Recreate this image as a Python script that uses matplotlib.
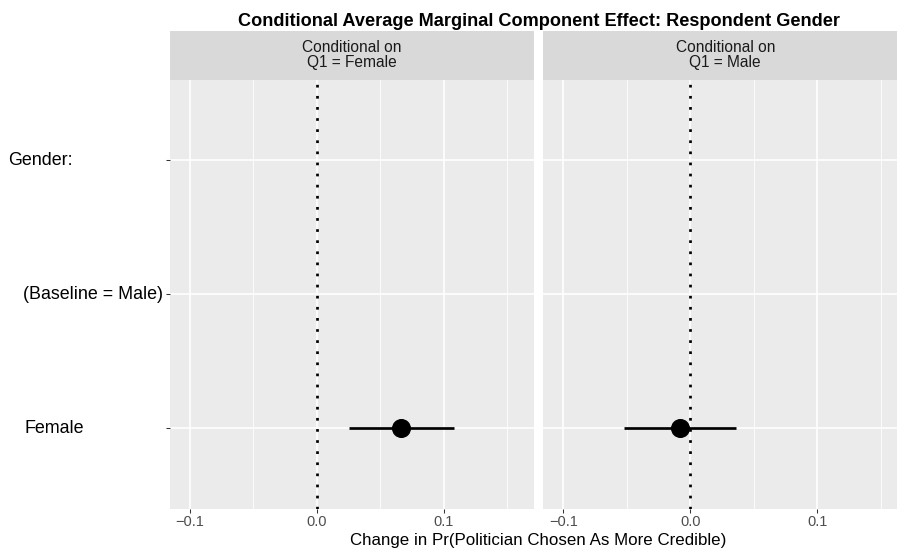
import matplotlib
matplotlib.use("Agg")
import matplotlib.pyplot as plt
import matplotlib.transforms as mtrans

plt.rcParams.update({"font.family": ["Liberation Sans", "DejaVu Sans"]})

# data
levels = ["Female", "(Baseline = Male)", "Gender:"]          # bottom -> top
level_x_px = [24, 23, 8]                                    # left edge of each label (px)
panels = ["Conditional on\nQ1 = Female", "Conditional on\nQ1 = Male"]
estimate = [0.066, -0.008]
ci_lo = [0.025, -0.052]
ci_hi = [0.108, 0.036]
title = "Conditional Average Marginal Component Effect: Respondent Gender"
xlabel = "Change in Pr(Politician Chosen As More Credible)"

W, H = 897, 552
fig = plt.figure(figsize=(W / 100, H / 100), dpi=100)
BG = "#EBEBEB"; STRIP = "#D9D9D9"
px = lambda x: x / W
py = lambda y: 1 - y / H

pw = 534 - 170
lefts = [170, 543.3]
p_top, p_bot = 80, 508.5
yvals = list(range(1, len(levels) + 1))
axes = []
for i, lab in enumerate(panels):
    ax = fig.add_axes([px(lefts[i]), py(p_bot), pw / W, (p_bot - p_top) / H])
    ax.set_facecolor(BG)
    for s in ax.spines.values():
        s.set_visible(False)
    ax.set_xlim(-0.1157, 0.1709)
    ax.set_ylim(0.4, len(levels) + 0.6)
    ax.set_xticks([-0.1, 0.0, 0.1])
    ax.set_xticklabels(["\u22120.1", "0.0", "0.1"])
    ax.set_xticks([-0.05, 0.05, 0.15], minor=True)
    ax.set_yticks(yvals)
    ax.set_yticklabels([])
    ax.tick_params(axis="both", which="major", length=2.9, width=0.75, color="#333333",
                   labelsize=10.5, labelcolor="#4D4D4D", pad=2)
    ax.tick_params(axis="x", which="minor", length=0)
    if i > 0:
        ax.tick_params(axis="y", which="both", length=0)
    ax.grid(True, which="major", color="white", lw=1.2)
    ax.grid(True, which="minor", axis="x", color="white", lw=0.6)
    ax.set_axisbelow(True)
    ax.axvline(0, color="black", lw=1.95, linestyle=(0, (1, 3.1)), zorder=2)
    ax.plot([ci_lo[i], ci_hi[i]], [yvals[0], yvals[0]], color="black", lw=1.95, zorder=3,
            solid_capstyle="butt")
    ax.plot(estimate[i], yvals[0], "o", color="black", ms=12.7, zorder=4)

    sax = fig.add_axes([px(lefts[i]), py(79.5), pw / W, (79.5 - 31) / H])
    sax.set_facecolor(STRIP)
    sax.set_xticks([]); sax.set_yticks([])
    for s in sax.spines.values():
        s.set_visible(False)
    sax.text(0.5, 0.5, lab, ha="center", va="center", fontsize=11.2, color="#1A1A1A",
             linespacing=1.0, transform=sax.transAxes)
    axes.append(ax)

ax1 = axes[0]
tr = mtrans.blended_transform_factory(fig.transFigure, ax1.transData)
for lab, xp, y in zip(levels, level_x_px, yvals):
    fig.text(px(xp), y, lab, transform=tr, ha="left", va="center", fontsize=12.9, color="black")

fig.text(px(539), py(21), title, ha="center", va="center", fontsize=13.1, fontweight="bold")
fig.text(px(538.5), py(541), xlabel, ha="center", va="center", fontsize=12.2)

fig.savefig("out.png", dpi=100)
